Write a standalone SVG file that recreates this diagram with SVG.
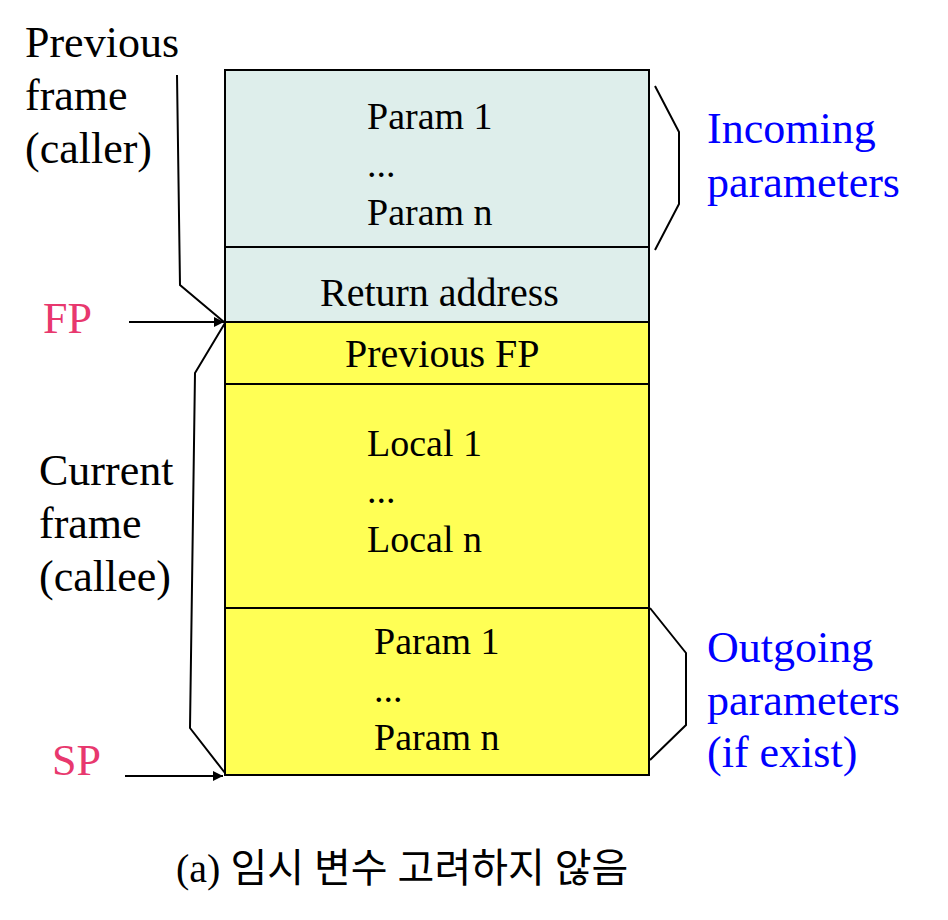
<svg xmlns="http://www.w3.org/2000/svg" width="948" height="920" viewBox="0 0 948 920">
<style>
text{font-family:"Liberation Serif","Times New Roman",serif;fill:#000}
.box{font-size:38px}
.box40{font-size:40px}
.side{font-size:44px}
.reg{font-size:44px;fill:#E8386E}
.blue{font-size:44px;fill:#0000FF}
.cap{font-size:40px;font-family:"Liberation Serif","Noto Sans CJK KR",serif}
.cell{stroke:#000;stroke-width:2}
.grey{fill:#DEEEEB}
.yel{fill:#FFFF55}
.ln{fill:none;stroke:#000;stroke-width:2}
.br{fill:none;stroke:#000;stroke-width:2;stroke-linejoin:miter}
</style>
<defs>
<marker id="ah" viewBox="0 0 10 10" refX="10" refY="5" markerWidth="5" markerHeight="5" orient="auto" markerUnits="strokeWidth">
<path d="M0,0 L10,5 L0,10 z" fill="#000"/>
</marker>
</defs>
<rect width="948" height="920" fill="#fff"/>

<g id="incoming-params">
<rect class="cell grey" x="225" y="70" width="424" height="177"/>
<text class="box" x="367" y="129">Param 1</text>
<text class="box" x="367" y="177">...</text>
<text class="box" x="367" y="225">Param n</text>
</g>
<g id="return-address">
<rect class="cell grey" x="225" y="247" width="424" height="75"/>
<text class="box40" x="320" y="306">Return address</text>
</g>
<g id="previous-fp">
<rect class="cell yel" x="225" y="322" width="424" height="62"/>
<text class="box40" x="345" y="367">Previous FP</text>
</g>
<g id="locals">
<rect class="cell yel" x="225" y="384" width="424" height="224"/>
<text class="box" x="367" y="456">Local 1</text>
<text class="box" x="367" y="503">...</text>
<text class="box" x="367" y="552">Local n</text>
</g>
<g id="outgoing-params">
<rect class="cell yel" x="225" y="608" width="424" height="167"/>
<text class="box" x="374" y="654">Param 1</text>
<text class="box" x="374" y="702">...</text>
<text class="box" x="374" y="750">Param n</text>
</g>

<g id="label-previous-frame">
<text class="side" x="25" y="57">Previous</text>
<text class="side" x="25" y="110">frame</text>
<text class="side" x="25" y="163">(caller)</text>
</g>
<g id="label-current-frame">
<text class="side" x="39" y="485">Current</text>
<text class="side" x="39" y="538">frame</text>
<text class="side" x="39" y="591">(callee)</text>
</g>
<g id="label-fp"><text class="reg" x="43" y="333">FP</text></g>
<g id="label-sp"><text class="reg" x="52" y="775">SP</text></g>
<g id="label-incoming">
<text class="blue" x="707" y="143">Incoming</text>
<text class="blue" x="707" y="197">parameters</text>
</g>
<g id="label-outgoing">
<text class="blue" x="707" y="662">Outgoing</text>
<text class="blue" x="707" y="715">parameters</text>
<text class="blue" x="707" y="767">(if exist)</text>
</g>
<g id="caption">
<text class="cap" x="176" y="882">(a) 임시 변수 고려하지 않음</text>
</g>

<g id="connectors">
<path class="br" d="M655,86 L679,132 L679,204 L655,250"/>
<path class="br" d="M650,608 L686,653 L686,725 L650,760"/>
<path class="br" d="M177,75 L180,285 L224,322"/>
<path class="br" d="M225,323 L195,373 L190,728 L225,773"/>
<line class="ln" x1="129" y1="322" x2="224" y2="322" marker-end="url(#ah)"/>
<line class="ln" x1="125" y1="776" x2="223" y2="776" marker-end="url(#ah)"/>
</g>
</svg>
